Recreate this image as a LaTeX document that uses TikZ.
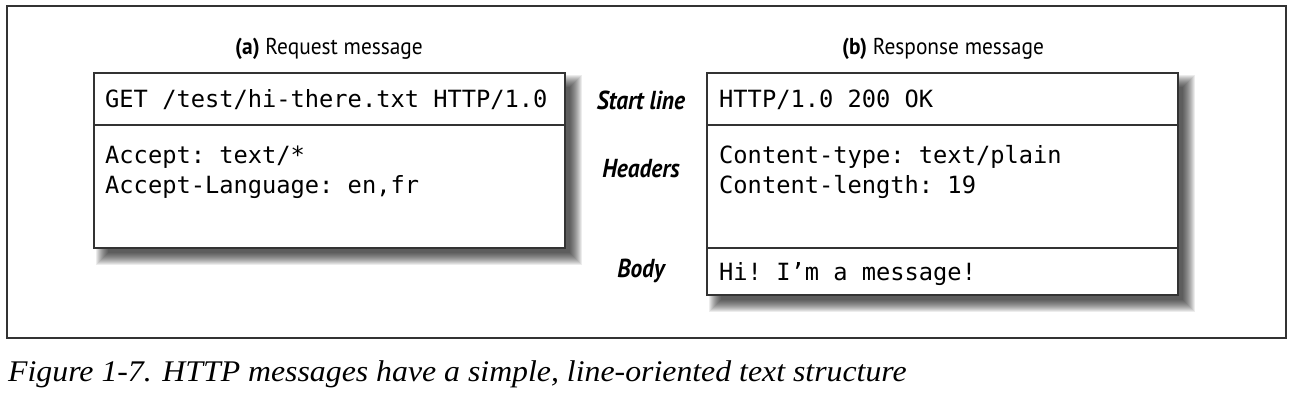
\documentclass[tikz,border=0pt]{standalone}
\usepackage{fontspec}
\setmonofont{DejaVu Sans Mono}
\newfontfamily\titlefont[FakeStretch=0.93]{PT Sans}
\newfontfamily\condfont[FakeStretch=0.9]{PT Sans}
\newfontfamily\capfont[FakeStretch=1.06]{Liberation Serif}
\usetikzlibrary{positioning,calc}

\tikzset{
  sect/.style={draw=black!80, line width=1.6pt, fill=white, inner sep=0pt,
    outer sep=0pt, minimum width=471pt},
  msgline/.style={anchor=base west, inner sep=0pt,
    font=\ttfamily\fontsize{23.7}{30}\selectfont},
  msgtitle/.style={anchor=base, inner sep=0pt,
    font=\titlefont\fontsize{23}{26}\selectfont},
  partname/.style={anchor=base, inner sep=0pt,
    font=\condfont\bfseries\itshape\fontsize{26}{28}\selectfont}
}

\begin{document}
\begin{tikzpicture}[x=1pt,y=-1pt]
  \useasboundingbox (0,0) rectangle (1296,420);

  % frame
  \draw[black!80, line width=1.6pt] (7,6) rectangle (1286,338);

  % shadows
  \foreach \d in {-4,...,8} {
    \fill[black, opacity=0.075] (104-\d,83-\d) rectangle (574+\d,257+\d);
    \fill[black, opacity=0.075] (717-\d,83-\d) rectangle (1187+\d,304+\d);
  }

  % request message
  \node[sect, minimum height=52pt, anchor=north west] (reqstart) at (94,73) {};
  \node[sect, minimum height=123pt, below=0pt of reqstart] (reqhead) {};

  % response message
  \node[sect, minimum height=52pt, anchor=north west] (resstart) at (707,73) {};
  \node[sect, minimum height=123pt, below=0pt of resstart] (reshead) {};
  \node[sect, minimum height=47pt, below=0pt of reshead] (resbody) {};

  % titles
  \node[msgtitle] (reqtitle) at (329,55) {\textbf{(a)} Request message};
  \node[msgtitle] (restitle) at (943,55) {\textbf{(b)} Response message};

  % part names
  \node[partname] (lstart) at (641,110) {Start line};
  \node[partname] (lhead) at (641,177) {Headers};
  \node[partname] (lbody) at (641,277) {Body};

  % request lines
  \node[msgline] (reqline) at (105,107) {GET /test/hi-there.txt HTTP/1.0};
  \node[msgline] (reqacc) at (105,163) {Accept: text/*};
  \node[msgline] (reqlang) at (105,193) {Accept-Language: en,fr};

  % response lines
  \node[msgline] (resline) at (719,107) {HTTP/1.0 200 OK};
  \node[msgline] (restype) at (719,163) {Content-type: text/plain};
  \node[msgline] (reslen) at (719,193) {Content-length: 19};
  \node[msgline] (resmsg) at (719,280) {Hi! I’m a message!};

  % caption
  \node[anchor=base west, inner sep=0pt, font=\capfont\itshape\fontsize{30}{34}\selectfont]
    (caption) at (8,381) {Figure 1-7. HTTP messages have a simple, line-oriented text structure};
\end{tikzpicture}
\end{document}
